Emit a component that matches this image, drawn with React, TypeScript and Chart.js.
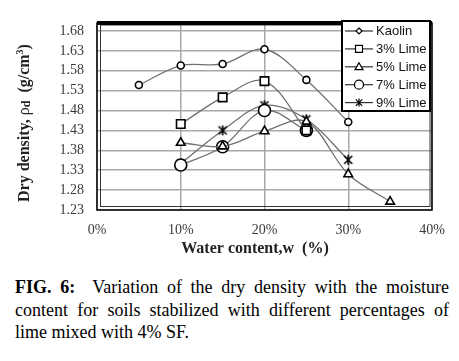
import React, { useEffect, useRef } from "react";
import { Chart, registerables } from "chart.js";

Chart.register(...registerables);

const seriesNames = ["Kaolin", "3% Lime", "5% Lime", "7% Lime", "9% Lime"];
const kaolinX = [5, 10, 15, 20, 25, 30];
const kaolinY = [1.544, 1.593, 1.597, 1.634, 1.557, 1.451];
const lime3X = [10, 15, 20, 25];
const lime3Y = [1.446, 1.513, 1.554, 1.43];
const lime5X = [10, 15, 20, 25, 30, 35];
const lime5Y = [1.399, 1.39, 1.428, 1.452, 1.32, 1.251];
const lime7X = [10, 15, 20, 25];
const lime7Y = [1.343, 1.389, 1.48, 1.43];
const lime9X = [10, 15, 20, 25, 30];
const lime9Y = [1.347, 1.43, 1.493, 1.458, 1.356];
const yTickValues = [1.23, 1.28, 1.33, 1.38, 1.43, 1.48, 1.53, 1.58, 1.63, 1.68];
const xTickValues = [0, 10, 20, 30, 40];

const SERIF = "'Liberation Serif', 'Times New Roman', serif";
const SANS = "'Liberation Sans', Arial, sans-serif";
const LINE = "#707070";

function makeAsterisk(r: number, lw: number) {
  const c = document.createElement("canvas");
  const s = Math.ceil(r * 2 + lw * 2);
  c.width = s;
  c.height = s;
  const g = c.getContext("2d")!;
  const m = s / 2;
  g.strokeStyle = "#000";
  g.lineWidth = lw;
  g.beginPath();
  g.moveTo(m - r * 0.8, m - r * 0.8);
  g.lineTo(m + r * 0.8, m + r * 0.8);
  g.moveTo(m + r * 0.8, m - r * 0.8);
  g.lineTo(m - r * 0.8, m + r * 0.8);
  g.moveTo(m, m - r);
  g.lineTo(m, m + r);
  g.stroke();
  return c;
}

function drawMarker(ctx: CanvasRenderingContext2D, kind: string, x: number, y: number, r: number) {
  ctx.save();
  ctx.strokeStyle = "#000";
  ctx.fillStyle = "#fff";
  ctx.lineWidth = 1.2;
  ctx.beginPath();
  if (kind === "diamond") {
    ctx.moveTo(x, y - r);
    ctx.lineTo(x + r, y);
    ctx.lineTo(x, y + r);
    ctx.lineTo(x - r, y);
    ctx.closePath();
  } else if (kind === "rect") {
    ctx.rect(x - r, y - r, 2 * r, 2 * r);
  } else if (kind === "triangle") {
    ctx.moveTo(x, y - r);
    ctx.lineTo(x + r, y + r * 0.7);
    ctx.lineTo(x - r, y + r * 0.7);
    ctx.closePath();
  } else if (kind === "circle") {
    ctx.arc(x, y, r, 0, Math.PI * 2);
  } else {
    ctx.moveTo(x - r * 0.8, y - r * 0.8);
    ctx.lineTo(x + r * 0.8, y + r * 0.8);
    ctx.moveTo(x + r * 0.8, y - r * 0.8);
    ctx.lineTo(x - r * 0.8, y + r * 0.8);
    ctx.moveTo(x, y - r);
    ctx.lineTo(x, y + r);
    ctx.stroke();
    ctx.restore();
    return;
  }
  ctx.fill();
  ctx.stroke();
  ctx.restore();
}

const legendKinds = ["diamond", "rect", "triangle", "circle", "star"];
const legendSizes = [3, 3.5, 4, 4.5, 4];

const decorPlugin = {
  id: "decor",
  afterDatasetsDraw(chart: any) {
    const ctx: CanvasRenderingContext2D = chart.ctx;
    const a = chart.chartArea;
    ctx.save();
    // frame
    ctx.strokeStyle = "#000";
    ctx.lineWidth = 1.5;
    ctx.strokeRect(a.left, a.top, a.right - a.left, a.bottom - a.top);
    ctx.strokeStyle = "#333";
    ctx.lineWidth = 1;
    ctx.strokeRect(a.left + 3.5, a.top + 2, a.right - a.left - 5.5, a.bottom - a.top - 5.5);
    ctx.fillStyle = "#000";
    ctx.fillRect(a.left, a.top - 2, a.right - a.left, 4);

    // legend
    const lx = 342, ly = 21, lw = 88, lh = 90;
    ctx.fillStyle = "#fff";
    ctx.fillRect(lx, ly, lw, lh);
    ctx.strokeStyle = "#000";
    ctx.lineWidth = 2;
    ctx.strokeRect(lx, ly, lw, lh);
    chart.data.datasets.forEach((ds: any, i: number) => {
      const y = 31 + i * 17.9;
      ctx.strokeStyle = "#333";
      ctx.lineWidth = 1.2;
      ctx.beginPath();
      ctx.moveTo(lx + 3, y);
      ctx.lineTo(lx + 31, y);
      ctx.stroke();
      drawMarker(ctx, legendKinds[i], lx + 17, y, legendSizes[i]);
      ctx.fillStyle = "#111";
      ctx.font = `13px ${SANS}`;
      ctx.textBaseline = "middle";
      ctx.textAlign = "left";
      ctx.fillText(ds.label, lx + 34, y + 0.5);
    });

    // x title
    ctx.fillStyle = "#222";
    ctx.font = `bold 16px ${SERIF}`;
    ctx.textAlign = "center";
    ctx.textBaseline = "middle";
    ctx.fillText("Water content,w  (%)", 255, 249);

    // y title (rotated, with sub/superscript)
    const parts = [
      { t: "Dry density, ", f: `bold 16px ${SERIF}`, dy: 0 },
      { t: "ρ", f: `16px ${SERIF}`, dy: 0 },
      { t: "d", f: `bold 12px ${SERIF}`, dy: 2 },
      { t: "  (g/cm", f: `bold 16px ${SERIF}`, dy: 0 },
      { t: "3", f: `bold 10px ${SERIF}`, dy: -5 },
      { t: ")", f: `bold 16px ${SERIF}`, dy: 0 },
    ];
    let total = 0;
    const widths = parts.map((p) => {
      ctx.font = p.f;
      const w = ctx.measureText(p.t).width;
      total += w;
      return w;
    });
    ctx.translate(25, 123);
    ctx.rotate(-Math.PI / 2);
    ctx.textAlign = "left";
    let cx = -total / 2;
    parts.forEach((p, i) => {
      ctx.font = p.f;
      ctx.fillText(p.t, cx, p.dy);
      cx += widths[i];
    });
    ctx.restore();
  },
};

function pts(xs: number[], ys: number[]) {
  return xs.map((x, i) => ({ x, y: ys[i] }));
}

export default function App() {
  const ref = useRef<HTMLCanvasElement | null>(null);
  useEffect(() => {
    if (!ref.current) return;
    const star = makeAsterisk(5, 1.6);
    const base = {
      borderColor: LINE,
      borderWidth: 1.3,
      tension: 0.35,
      pointBorderColor: "#000",
      pointBackgroundColor: "#fff",
      pointBorderWidth: 1.6,
      fill: false,
    };
    const chart = new Chart(ref.current, {
      type: "line",
      data: {
        datasets: [
          { ...base, label: seriesNames[0], data: pts(kaolinX, kaolinY), pointStyle: "circle", pointRadius: 3.5 },
          { ...base, label: seriesNames[1], data: pts(lime3X, lime3Y), pointStyle: "rect", pointRadius: 6 },
          { ...base, label: seriesNames[2], data: pts(lime5X, lime5Y), pointStyle: "triangle", pointRadius: 5 },
          { ...base, label: seriesNames[3], data: pts(lime7X, lime7Y), pointStyle: "circle", pointRadius: 6 },
          { ...base, label: seriesNames[4], data: pts(lime9X, lime9Y), pointStyle: star as any, pointRadius: 5 },
        ] as any,
      },
      options: {
        responsive: false,
        animation: false,
        devicePixelRatio: 1,
        layout: { padding: { top: 23, right: 27, left: 0, bottom: 0 } },
        plugins: { legend: { display: false }, tooltip: { enabled: false } },
        scales: {
          x: {
            type: "linear",
            min: 0,
            max: 40,
            afterBuildTicks: (s: any) => {
              s.ticks = xTickValues.map((v) => ({ value: v }));
            },
            afterFit: (s: any) => {
              s.height = 52;
            },
            border: { display: false },
            grid: { color: "#a8a8a8", lineWidth: 1.5, drawTicks: false },
            ticks: {
              padding: 12,
              color: "#3a3a3a",
              font: { family: SERIF, size: 14 },
              callback: (v: any) => `${v}%`,
              maxRotation: 0,
            },
          },
          y: {
            type: "linear",
            min: 1.23,
            max: 1.7,
            afterBuildTicks: (s: any) => {
              s.ticks = yTickValues.map((v) => ({ value: v }));
            },
            afterFit: (s: any) => {
              s.width = 97;
            },
            border: { display: false },
            grid: { color: "#a8a8a8", lineWidth: 1.5, drawTicks: false },
            ticks: {
              padding: 13,
              color: "#3a3a3a",
              font: { family: SERIF, size: 14 },
              callback: (v: any) => Number(v).toFixed(2),
            },
          },
        },
      },
      plugins: [decorPlugin],
    } as any);
    return () => chart.destroy();
  }, []);

  return (
    <div style={{ position: "absolute", left: 0, top: 0, width: 459, height: 361, background: "#fff" }}>
      <canvas ref={ref} width={459} height={262} style={{ display: "block", width: 459, height: 262 }} />
      <div
        style={{
          position: "absolute",
          left: 15,
          top: 276,
          width: 434,
          fontFamily: SERIF,
          fontSize: 18,
          lineHeight: "22.5px",
          textAlign: "justify",
          color: "#000",
        }}
      >
        <b>FIG. 6:</b>&nbsp; Variation of the dry density with the moisture content for soils stabilized with different
        percentages of lime mixed with 4% SF.
      </div>
    </div>
  );
}
